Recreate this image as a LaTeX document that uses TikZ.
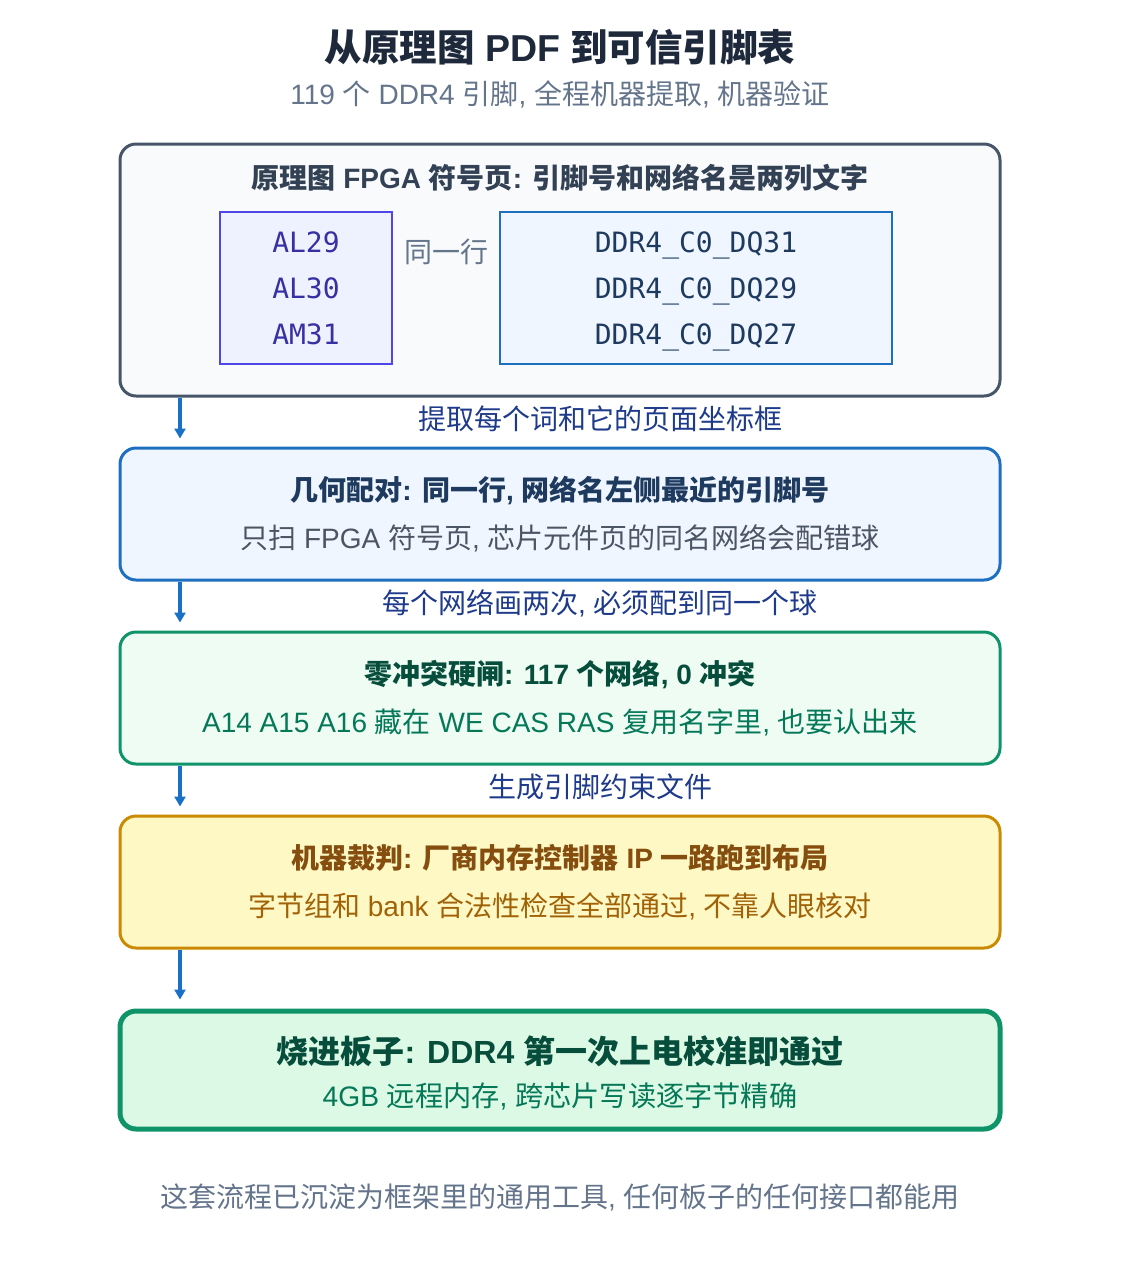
\documentclass[tikz,border=0pt]{standalone}
\usepackage{fontspec}
\setmainfont{Liberation Sans}
\newfontfamily\cjk{Noto Sans CJK SC}
\newfontfamily\pinfont{DejaVu Sans Mono}
\usetikzlibrary{positioning, arrows.meta}

% switch to the CJK font for every ideograph
\XeTeXinterchartokenstate=1
\newXeTeXintercharclass\hanclass
\newcount\hancode
\hancode="4E00
\loop \XeTeXcharclass\hancode=\hanclass \ifnum\hancode<"9FFF \advance\hancode by 1 \repeat
\XeTeXinterchartoks 0 \hanclass {\begingroup\cjk}
\XeTeXinterchartoks 4095 \hanclass {\begingroup\cjk}
\XeTeXinterchartoks \hanclass 0 {\endgroup}
\XeTeXinterchartoks \hanclass 4095 {\endgroup}

\definecolor{ink}{HTML}{1E293B}
\definecolor{muted}{HTML}{64748B}
\definecolor{slateline}{HTML}{475569}
\definecolor{slatefill}{HTML}{F8FAFC}
\definecolor{slatetext}{HTML}{334155}
\definecolor{pinline}{HTML}{4F46E5}
\definecolor{pinfill}{HTML}{EEF2FF}
\definecolor{pintext}{HTML}{3730A3}
\definecolor{netline}{HTML}{1E6FC0}
\definecolor{netfill}{HTML}{EFF6FF}
\definecolor{nettext}{HTML}{1E3A5F}
\definecolor{flowblue}{HTML}{1A6FC6}
\definecolor{steptext}{HTML}{1E3A8A}
\definecolor{greyline}{HTML}{4B5563}
\definecolor{greenline}{HTML}{0E9468}
\definecolor{greenfill}{HTML}{EEFCF4}
\definecolor{greendark}{HTML}{064E3B}
\definecolor{greentext}{HTML}{047857}
\definecolor{goldline}{HTML}{CA8A04}
\definecolor{goldfill}{HTML}{FEF8C4}
\definecolor{golddark}{HTML}{854D0E}
\definecolor{goldtext}{HTML}{A16207}
\definecolor{mintfill}{HTML}{DCF9E6}

\tikzset{
  stage/.style={rounded corners=16pt, line width=3pt, minimum width=880pt, inner sep=0pt},
  column/.style={line width=2pt, inner sep=0pt, minimum height=152pt},
  flow/.style={draw=flowblue, line width=3.5pt, -{Triangle[length=10pt,width=11pt]}},
  txt/.style={font=\fontsize{28}{34}\selectfont, inner sep=0pt},
  head/.style={font=\bfseries\fontsize{28}{34}\selectfont, inner sep=0pt},
  pin/.style={font=\pinfont\fontsize{28}{34}\selectfont, inner sep=0pt, text height=20pt, text depth=0pt}
}

\begin{document}
\begin{tikzpicture}[x=1pt, y=-1pt]
  \useasboundingbox (0,0) rectangle (1120,1280);

  \node[inner sep=0pt, text=ink, font=\bfseries\fontsize{37.5}{44}\selectfont] (title) at (560,47) {从原理图 PDF 到可信引脚表};
  \node[txt, text=muted] (subtitle) at (560,94) {119 个 DDR4 引脚, 全程机器提取, 机器验证};

  % stage boxes
  \node[stage, draw=slateline, fill=slatefill, minimum height=252pt] (sheet) at (560,270) {};
  \node[stage, draw=netline, fill=netfill, minimum height=132pt] (pair) at (560,514) {};
  \node[stage, draw=greenline, fill=greenfill, minimum height=132pt] (gate) at (560,698) {};
  \node[stage, draw=goldline, fill=goldfill, minimum height=132pt] (judge) at (560,882) {};
  \node[stage, draw=greenline, fill=mintfill, line width=5pt, minimum height=118pt] (board) at (560,1070) {};

  % sheet contents
  \node[head, text=slatetext] (sheethead) at (560,178) {原理图 FPGA 符号页: 引脚号和网络名是两列文字};
  \node[column, draw=pinline, fill=pinfill, minimum width=172pt] (pins) at (306,288) {};
  \node[column, draw=netline, fill=netfill, minimum width=392pt] (nets) at (696,288) {};
  \node[pin, text=pintext] (p1) at (306,242) {AL29};
  \node[pin, text=pintext] (p2) at (306,288) {AL30};
  \node[pin, text=pintext] (p3) at (306,334) {AM31};
  \node[txt, text=muted] (samerow) at (446,252) {同一行};
  \node[pin, text=nettext] (n1) at (696,242) {DDR4\_C0\_DQ31};
  \node[pin, text=nettext] (n2) at (696,288) {DDR4\_C0\_DQ29};
  \node[pin, text=nettext] (n3) at (696,334) {DDR4\_C0\_DQ27};

  \node[head, text=nettext] (pairhead) at (560,490) {几何配对: 同一行, 网络名左侧最近的引脚号};
  \node[txt, text=greyline] (pairsub) at (560,538) {只扫 FPGA 符号页, 芯片元件页的同名网络会配错球};

  \node[head, text=greendark] (gatehead) at (560,674) {零冲突硬闸: 117 个网络, 0 冲突};
  \node[txt, text=greentext] (gatesub) at (560,722) {A14 A15 A16 藏在 WE CAS RAS 复用名字里, 也要认出来};

  \node[head, text=golddark] (judgehead) at (560,858) {机器裁判: 厂商内存控制器 IP 一路跑到布局};
  \node[txt, text=goldtext] (judgesub) at (560,906) {字节组和 bank 合法性检查全部通过, 不靠人眼核对};

  \node[inner sep=0pt, text=greendark, font=\bfseries\fontsize{32}{38}\selectfont] (boardhead) at (560,1051) {烧进板子: DDR4 第一次上电校准即通过};
  \node[inner sep=0pt, text=greentext, font=\fontsize{28.2}{34}\selectfont] (boardsub) at (560,1096) {4GB 远程内存, 跨芯片写读逐字节精确};

  % arrows down the left side
  \coordinate (rail) at (180,0);
  \draw[flow] (sheet.south -| rail) -- ([yshift=8pt]pair.north -| rail);
  \draw[flow] (pair.south -| rail) -- ([yshift=8pt]gate.north -| rail);
  \draw[flow] (gate.south -| rail) -- ([yshift=8pt]judge.north -| rail);
  \draw[flow] (judge.south -| rail) -- ([yshift=9pt]board.north -| rail);
  \node[txt, text=steptext] (step1) at (600,419) {提取每个词和它的页面坐标框};
  \node[txt, text=steptext] (step2) at (600,603) {每个网络画两次, 必须配到同一个球};
  \node[txt, text=steptext] (step3) at (600,787) {生成引脚约束文件};

  \node[txt, text=muted] (footer) at (560,1197) {这套流程已沉淀为框架里的通用工具, 任何板子的任何接口都能用};
\end{tikzpicture}
\end{document}
